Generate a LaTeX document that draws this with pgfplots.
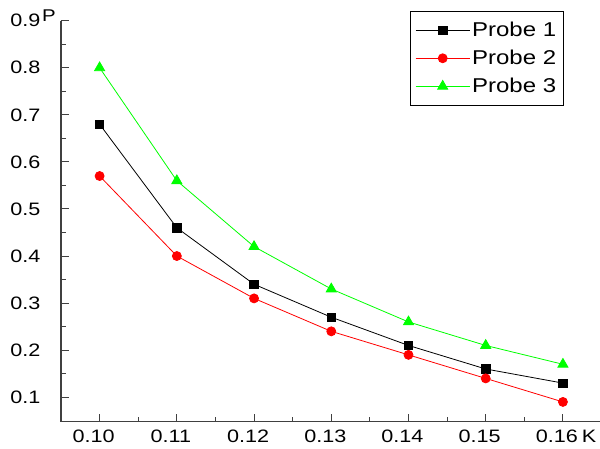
\documentclass[border=0pt]{standalone}
\usepackage{pgfplots}
\pgfplotsset{compat=1.18}
\usepackage{fontspec}
\setmainfont[FakeStretch=1.2]{Liberation Sans}

\begin{document}
\begin{tikzpicture}
% fix the page to the reference frame: axis box at (0,0)-(539,401)
\useasboundingbox (-61pt,-26.3pt) rectangle (539pt,421.7pt);
\begin{axis}[
    at={(0pt,0pt)}, anchor=south west,
    scale only axis,
    width=539pt, height=401pt,
    clip=false,
    xmin=0.095, xmax=0.1648,
    ymin=0.048, ymax=0.9,
    axis lines*=left,
    axis line style={line width=1.4pt, color=black!75},
    tick align=inside,
    major tick length=8pt, minor tick length=5pt,
    tick style={line width=1pt, color=black!75},
    xtick={0.10,0.11,0.12,0.13,0.14,0.15,0.16},
    ytick={0.1,0.2,0.3,0.4,0.5,0.6,0.7,0.8,0.9},
    minor x tick num=1, minor y tick num=1,
    scaled ticks=false,
    ticklabel style={font=\fontsize{18}{20}\selectfont},
    /pgf/number format/assume math mode=true,
    xticklabel style={/pgf/number format/fixed, /pgf/number format/fixed zerofill, /pgf/number format/precision=2, yshift=-5pt, xshift=-6pt},
    yticklabel style={/pgf/number format/fixed, /pgf/number format/fixed zerofill, /pgf/number format/precision=1, xshift=-17pt},
    legend style={at={(rel axis cs:0.6475,1.0242)}, anchor=north west,
        draw=black, line width=0.6pt,
        font=\fontsize{20}{24}\selectfont,
        inner xsep=5pt, inner ysep=9pt, row sep=8pt},
    legend cell align=left,
    legend image code/.code={\draw[mark repeat=2,mark phase=2,#1] plot coordinates {(0pt,0pt) (27pt,0pt) (54pt,0pt)};},
]
\addplot[color=black, line width=0.8pt, mark=square*, mark size=4.2pt] coordinates {
    (0.10,0.68) (0.11,0.46) (0.12,0.34) (0.13,0.27) (0.14,0.21) (0.15,0.16) (0.16,0.13)
};
\addlegendentry{Probe 1}
\addplot[color=red, line width=0.8pt, mark=*, mark size=4.5pt] coordinates {
    (0.10,0.57) (0.11,0.40) (0.12,0.31) (0.13,0.24) (0.14,0.19) (0.15,0.14) (0.16,0.09)
};
\addlegendentry{Probe 2}
\addplot[color=green, line width=0.8pt, mark=triangle*, mark size=5.8pt] coordinates {
    (0.10,0.80) (0.11,0.56) (0.12,0.42) (0.13,0.33) (0.14,0.26) (0.15,0.21) (0.16,0.17)
};
\addlegendentry{Probe 3}
\node[font=\fontsize{17}{20}\selectfont] at (rel axis cs:0,1) [xshift=-12pt, yshift=4.7pt] {P};
\node[font=\fontsize{18}{20}\selectfont] at (rel axis cs:0.9796,0) [yshift=-14.8pt] {K};
\end{axis}
\end{tikzpicture}
\end{document}
